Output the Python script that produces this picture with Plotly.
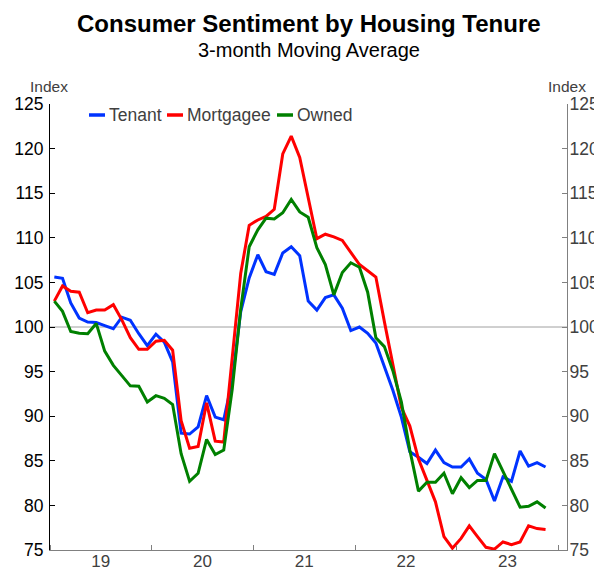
import pandas as pd
import plotly.graph_objects as go

# Monthly observations, Jan 2019 - Nov 2023
months = pd.date_range("2019-01-01", periods=59, freq="MS").strftime("%Y-%m-%d").tolist()

tenant = [
    105.6, 105.45, 102.7, 101.0, 100.55, 100.5, 100.15, 99.8, 101.1, 100.75, 99.25, 97.9,
    99.2, 98.3, 96.1, 88.1, 88.0, 88.8, 92.3, 89.9, 89.6, 94.0, 101.7, 105.5,
    108.1, 106.2, 105.9, 108.3, 109.0, 108.0, 102.9, 101.9, 103.3, 103.6, 102.1, 99.6,
    100.0, 99.3, 98.2, 95.5, 92.9, 89.9, 86.0, 85.4, 84.7, 86.2, 84.8, 84.3,
    84.3, 85.2, 83.6, 82.9, 80.5, 83.2, 82.7, 86.1, 84.4, 84.8, 84.3,
]
mortgagee = [
    102.9, 104.6, 104.0, 103.9, 101.6, 101.9, 101.9, 102.5, 100.8, 98.8, 97.5, 97.5,
    98.4, 98.5, 97.4, 89.5, 86.4, 86.6, 91.5, 87.2, 87.1, 96.5, 106.0, 111.4,
    112.0, 112.4, 113.2, 119.4, 121.4, 119.0, 114.5, 109.9, 110.4, 110.1, 109.7, 108.3,
    107.0, 106.3, 105.6, 100.6, 95.9, 91.0, 88.9, 85.2, 82.8, 80.4, 76.5, 75.2,
    76.3, 77.7, 76.5, 75.3, 75.1, 75.9, 75.6, 75.9, 77.7, 77.4, 77.3,
]
owned = [
    102.9, 101.75, 99.5, 99.3, 99.25, 100.4, 97.3, 95.7, 94.55, 93.4, 93.35, 91.6,
    92.3, 92.0, 91.3, 85.8, 82.7, 83.6, 87.4, 85.7, 86.2, 93.0, 102.0, 109.0,
    110.9, 112.2, 112.1, 112.8, 114.3, 112.9, 112.3, 108.9, 107.0, 103.6, 106.1, 107.2,
    106.7, 103.9, 98.8, 97.8, 95.1, 91.6, 86.2, 81.6, 82.6, 82.6, 83.6, 81.3,
    83.1, 82.0, 82.8, 82.8, 85.8, 83.8, 81.7, 79.8, 79.9, 80.4, 79.7,
]

series_names = ["Tenant", "Mortgagee", "Owned"]
series_values = [tenant, mortgagee, owned]
series_colors = ["#0033ff", "#ff0000", "#008000"]
series_axes = ["y", "y", "y2"]  # last series drawn against the (identical) right-hand axis

FONT = "Arial, 'Liberation Sans', sans-serif"

# Page body has an 8px margin; the plot area is laid out in reference pixels
PAGE_OFF = 8
W, H = 602 - PAGE_OFF, 572 - PAGE_OFF
PL, PR, PT, PB = 50, 567, 104, 550  # plot area in reference pixels
PW, PH = PR - PL, PB - PT


def px(x):
    return (x - PL) / PW


def py(y):
    return (PB - y) / PH


fig = go.Figure()
for name, vals, col, ax in zip(series_names, series_values, series_colors, series_axes):
    fig.add_trace(go.Scatter(
        x=months, y=vals, name=name, mode="lines", yaxis=ax,
        line=dict(color=col, width=3),
        xperiod="M1", xperiodalignment="middle", showlegend=False,
    ))

shapes = [dict(type="line", xref="x domain", x0=0, x1=1, yref="y", y0=100, y1=100,
               line=dict(color="#a0a0a0", width=1), layer="below")]

annotations = [
    dict(text="<b>Consumer Sentiment by Housing Tenure</b>", xref="paper", yref="paper",
         x=0.5, y=py(24), xanchor="center", yanchor="middle", showarrow=False,
         font=dict(size=24, color="#000000")),
    dict(text="3-month Moving Average", xref="paper", yref="paper",
         x=0.5, y=py(50), xanchor="center", yanchor="middle", showarrow=False,
         font=dict(size=20, color="#000000")),
    dict(text="Index", xref="paper", yref="paper", x=px(49), y=py(86),
         xanchor="center", yanchor="middle", showarrow=False,
         font=dict(size=15.5, color="#404040")),
    dict(text="Index", xref="paper", yref="paper", x=px(567), y=py(86),
         xanchor="center", yanchor="middle", showarrow=False,
         font=dict(size=15.5, color="#404040")),
]

# Legend (swatch start positions in reference pixels)
legend_swatch_x = [89, 167, 277]
LEG_Y = 115
for name, col, sx in zip(series_names, series_colors, legend_swatch_x):
    shapes.append(dict(type="line", xref="paper", yref="paper",
                       x0=px(sx), x1=px(sx + 16), y0=py(LEG_Y), y1=py(LEG_Y),
                       line=dict(color=col, width=3.5)))
    annotations.append(dict(text=name, xref="paper", yref="paper",
                            x=px(sx + 18), y=py(LEG_Y), xanchor="left", yanchor="middle",
                            showarrow=False, font=dict(size=17.5, color="#404040")))

fig.update_layout(
    width=W, height=H,
    margin=dict(l=PL - PAGE_OFF, r=W - (PR - PAGE_OFF), t=PT - PAGE_OFF, b=H - (PB - PAGE_OFF)),
    paper_bgcolor="white", plot_bgcolor="white",
    font=dict(family=FONT, size=17.5, color="#404040"),
    showlegend=False,
    xaxis=dict(type="date", range=["2019-01-01", "2024-02-01"], dtick="M12",
               tick0="2019-01-01", tickformat="%y", ticklabelmode="period",
               ticks="inside", ticklen=5, tickcolor="#808080", showline=True,
               linecolor="#808080", linewidth=1, showgrid=False, zeroline=False,
               automargin=False, ticklabelstandoff=-4,
               tickfont=dict(size=17, color="#404040")),
    yaxis=dict(range=[75, 125], dtick=5, ticks="inside", ticklen=5, tickcolor="#000000",
               showline=True, linecolor="#000000", linewidth=1, showgrid=False,
               zeroline=False, automargin=False, ticklabelstandoff=2,
               tickfont=dict(color="#000000")),
    yaxis2=dict(range=[75, 125], dtick=5, overlaying="y", side="right", matches="y",
                ticks="inside", ticklen=5, tickcolor="#808080", showline=True,
                linecolor="#808080", linewidth=1, showgrid=False, zeroline=False,
                automargin=False, ticklabelstandoff=-2,
                tickfont=dict(color="#404040")),
    shapes=shapes,
    annotations=annotations,
)

fig.write_html("out.html")
